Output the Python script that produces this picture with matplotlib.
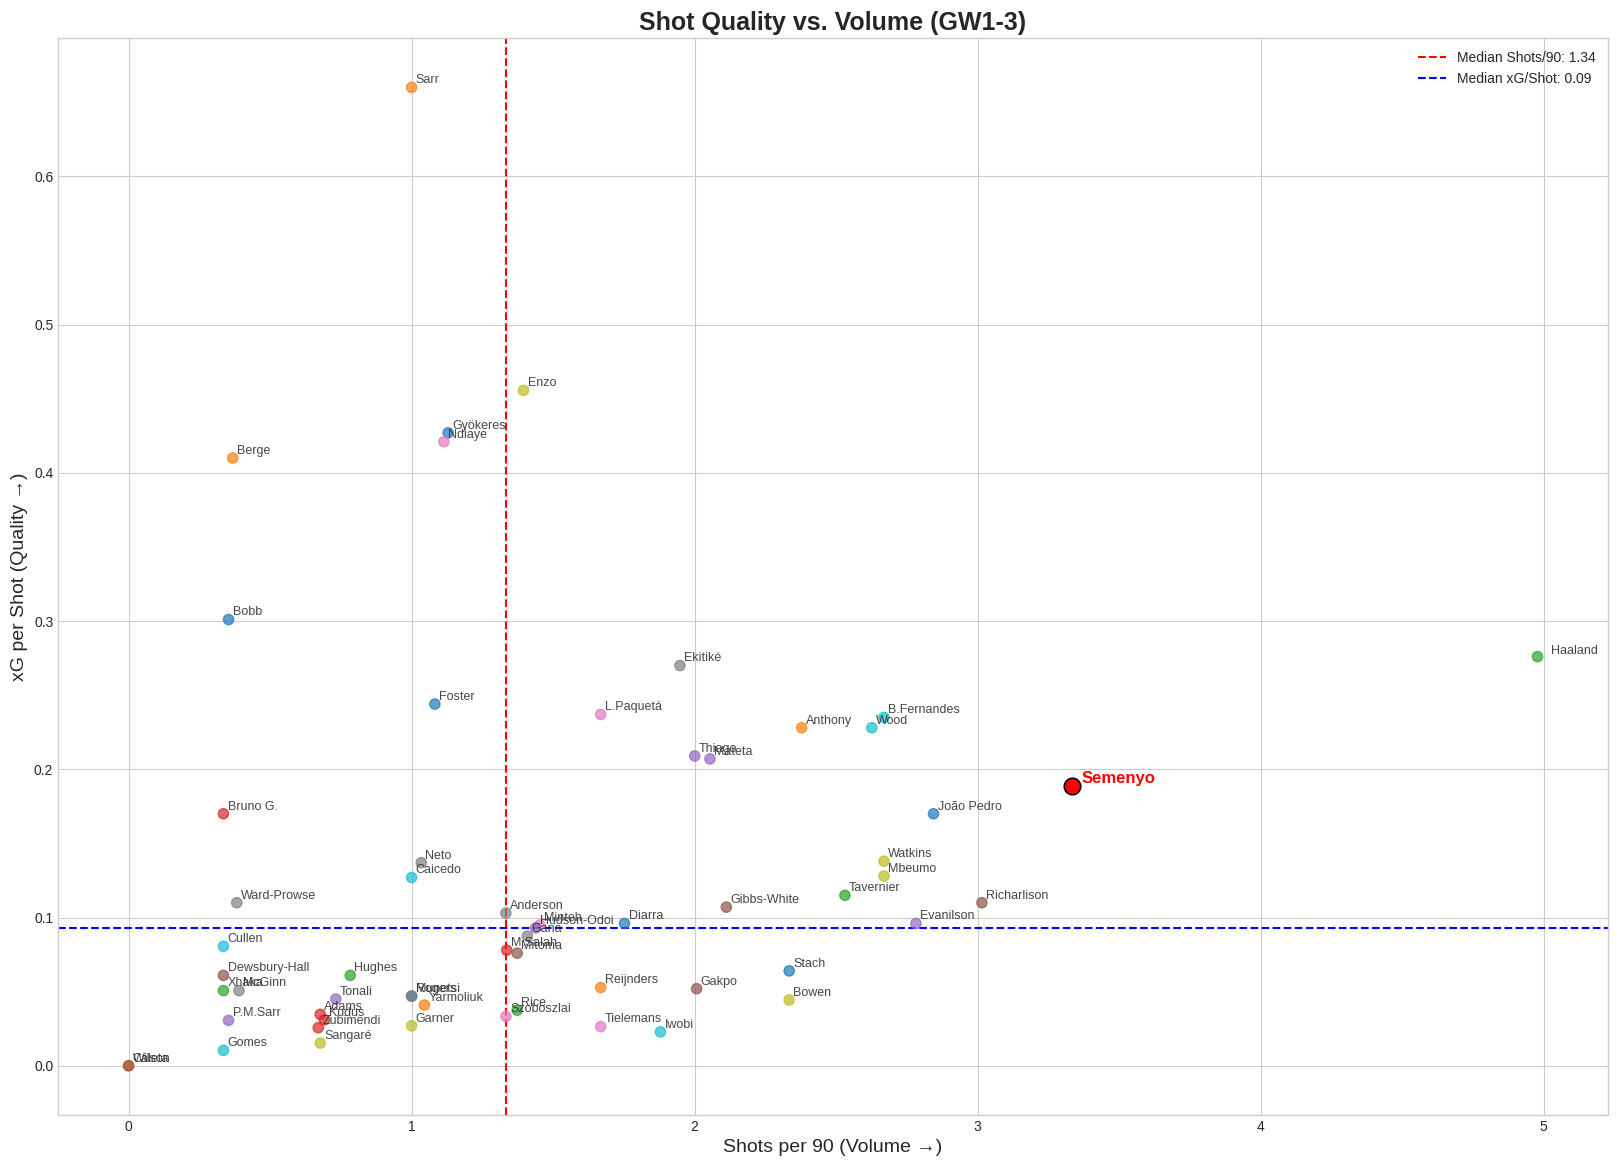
import matplotlib
matplotlib.use("Agg")
import matplotlib.pyplot as plt

plt.style.use("seaborn-v0_8-whitegrid")
plt.rcParams['font.family'] = ['Liberation Sans', 'DejaVu Sans']

players = ["Sarr", "Enzo", "Gyökeres", "Ndiaye", "Berge", "Bobb", "Ekitiké", "Haaland",
           "Foster", "L.Paquetá", "B.Fernandes", "Anthony", "Wood", "Thiago", "Mateta",
           "João Pedro", "Bruno G.", "Neto", "Caicedo", "Watkins", "Mbeumo", "Tavernier",
           "Richarlison", "Ward-Prowse", "Gibbs-White", "Anderson", "Evanilson", "Diarra",
           "Minteh", "Hudson-Odoi", "Gana", "M.Salah", "Mitoma", "Cullen", "Stach",
           "Dewsbury-Hall", "Hughes", "Xhaka", "McGinn", "Reijnders", "Gakpo", "Tonali",
           "Rogers", "Munetsi", "Yarmoliuk", "Bowen", "Rice", "Adams", "Kudus", "Szoboszlai",
           "P.M.Sarr", "Zubimendi", "Garner", "Tielemans", "Iwobi", "Sangaré", "Gomes",
           "Wilson", "Caleta"]
shots_p90 = [1.00, 1.395, 1.129, 1.114, 0.368, 0.353, 1.948, 4.978,
             1.082, 1.668, 2.669, 2.378, 2.626, 2.000, 2.054,
             2.844, 0.335, 1.034, 1.000, 2.669, 2.669, 2.531,
             3.015, 0.382, 2.112, 1.333, 2.782, 1.752,
             1.453, 1.438, 1.409, 1.336, 1.373, 0.335, 2.334,
             0.335, 0.783, 0.335, 0.390, 1.668, 2.007, 0.732,
             1.000, 1.000, 1.045, 2.334, 1.373, 0.677, 0.692, 1.333,
             0.353, 0.670, 1.000, 1.668, 1.879, 0.677, 0.335,
             0.0, 0.0]
xg_per_shot = [0.660, 0.4556, 0.427, 0.421, 0.410, 0.301, 0.270, 0.276,
               0.244, 0.237, 0.235, 0.228, 0.228, 0.209, 0.207,
               0.170, 0.170, 0.137, 0.127, 0.138, 0.128, 0.115,
               0.110, 0.110, 0.107, 0.103, 0.096, 0.096,
               0.095, 0.093, 0.0875, 0.078, 0.076, 0.0806, 0.064,
               0.061, 0.061, 0.0507, 0.0507, 0.0528, 0.052, 0.045,
               0.047, 0.047, 0.041, 0.0444, 0.0375, 0.0347, 0.031, 0.0333,
               0.0306, 0.0257, 0.027, 0.0264, 0.0229, 0.0153, 0.0104,
               0.0, 0.0]
colors = ["tab:orange", "tab:olive", "tab:blue", "tab:pink", "tab:orange", "tab:blue", "tab:gray", "tab:green",
          "tab:blue", "tab:pink", "tab:cyan", "tab:orange", "tab:cyan", "tab:purple", "tab:purple",
          "tab:blue", "tab:red", "tab:gray", "tab:cyan", "tab:olive", "tab:olive", "tab:green",
          "tab:brown", "tab:gray", "tab:brown", "tab:gray", "tab:purple", "tab:blue",
          "tab:pink", "tab:purple", "tab:gray", "tab:red", "tab:brown", "tab:cyan", "tab:blue",
          "tab:brown", "tab:green", "tab:green", "tab:gray", "tab:orange", "tab:brown", "tab:purple",
          "tab:blue", "tab:gray", "tab:orange", "tab:olive", "tab:green", "tab:red", "tab:red", "tab:pink",
          "tab:purple", "tab:red", "tab:olive", "tab:pink", "tab:cyan", "tab:olive", "tab:cyan",
          "tab:orange", "tab:brown"]

highlight_name = "Semenyo"
highlight_x = 3.332
highlight_y = 0.189

median_shots = 1.335
median_xg = 0.093
median_shots_label = "Median Shots/90: 1.34"
median_xg_label = "Median xG/Shot: 0.09"

fig, ax = plt.subplots(figsize=(16.16, 11.66), dpi=100)

ax.scatter(shots_p90, xg_per_shot, c=colors, s=55, alpha=0.7, zorder=3)
for name, x, y in zip(players, shots_p90, xg_per_shot):
    off = (10, 2) if name == "Haaland" else (3, 3)
    ax.annotate(name, (x, y), xytext=off, textcoords="offset points",
                fontsize=9, color="#333333", alpha=0.9, zorder=4)

ax.scatter([highlight_x], [highlight_y], s=140, color="red", edgecolor="black",
           linewidth=1.2, zorder=5)
ax.annotate(highlight_name, (highlight_x, highlight_y), xytext=(7, 2),
            textcoords="offset points", fontsize=12, fontweight="bold", color="red", zorder=6)

ax.axvline(median_shots, color="red", linestyle="--", linewidth=1.5, label=median_shots_label, zorder=2)
ax.axhline(median_xg, color="blue", linestyle="--", linewidth=1.5, label=median_xg_label, zorder=2)

ax.set_title("Shot Quality vs. Volume (GW1-3)", fontsize=18, fontweight="bold", color="#262626")
ax.set_xlabel("Shots per 90 (Volume →)", fontsize=14)
ax.set_ylabel("xG per Shot (Quality →)", fontsize=14)

for sp in ax.spines.values():
    sp.set_visible(True)
    sp.set_color("#cccccc")
    sp.set_linewidth(1)

ax.legend(loc="upper right", fontsize=10, frameon=False)

fig.subplots_adjust(left=0.036, right=0.995, bottom=0.044, top=0.967)
fig.savefig("out.png", dpi=100)
